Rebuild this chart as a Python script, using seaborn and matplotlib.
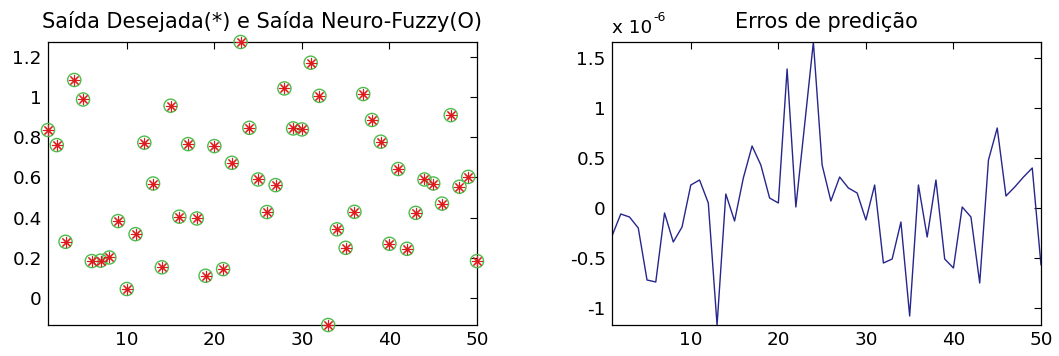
import matplotlib
matplotlib.use("Agg")
import matplotlib.pyplot as plt
import numpy as np
import pandas as pd
import seaborn as sns
from matplotlib.ticker import FixedLocator, FuncFormatter

# Amostras do conjunto de teste
amostra = list(range(1, 51))

# Saída desejada (*)
saida_desejada = [
    0.836, 0.761, 0.280, 1.085, 0.988, 0.184, 0.186, 0.202, 0.383, 0.045,
    0.318, 0.773, 0.570, 0.153, 0.957, 0.405, 0.766, 0.396, 0.111, 0.756,
    0.144, 0.673, 1.274, 0.847, 0.590, 0.428, 0.562, 1.043, 0.844, 0.839,
    1.171, 1.006, -0.134, 0.342, 0.250, 0.429, 1.015, 0.886, 0.778, 0.270,
    0.642, 0.245, 0.424, 0.590, 0.570, 0.470, 0.910, 0.554, 0.603, 0.184,
]

# Saída do modelo neuro-fuzzy (O) -- difere da desejada apenas na ordem de 1e-6
saida_neurofuzzy = [
    0.836, 0.761, 0.280, 1.085, 0.988, 0.184, 0.186, 0.202, 0.383, 0.045,
    0.318, 0.773, 0.570, 0.153, 0.957, 0.405, 0.766, 0.396, 0.111, 0.756,
    0.144, 0.673, 1.274, 0.847, 0.590, 0.428, 0.562, 1.043, 0.844, 0.839,
    1.171, 1.006, -0.134, 0.342, 0.250, 0.429, 1.015, 0.886, 0.778, 0.270,
    0.642, 0.245, 0.424, 0.590, 0.570, 0.470, 0.910, 0.554, 0.603, 0.184,
]

# Erro de predição, em unidades de 10^-6
erro_predicao = [
    -0.28, -0.06, -0.09, -0.20, -0.72, -0.74, -0.05, -0.34, -0.19, 0.23,
    0.28, 0.05, -1.17, 0.14, -0.13, 0.30, 0.62, 0.43, 0.10, 0.05,
    1.39, 0.01, 0.83, 1.66, 0.43, 0.07, 0.31, 0.20, 0.15, -0.12,
    0.23, -0.55, -0.51, -0.14, -1.08, 0.23, -0.29, 0.28, -0.51, -0.60,
    0.01, -0.09, -0.75, 0.48, 0.80, 0.12, 0.21, 0.31, 0.40, -0.57,
]

x_ticks = [10, 20, 30, 40, 50]
y_ticks_saida = [0, 0.2, 0.4, 0.6, 0.8, 1.0, 1.2]
y_ticks_erro = [-1, -0.5, 0, 0.5, 1, 1.5]

titulo_saida = "Saída Desejada(*) e Saída Neuro-Fuzzy(O)"
titulo_erro = "Erros de predição"
escala_base = "x 10"
escala_expoente = "-6"

sns.set_style("white")
plt.rcParams["font.family"] = ["DejaVu Sans"]
plt.rcParams["text.color"] = "black"

df = pd.DataFrame({
    "amostra": amostra,
    "desejada": saida_desejada,
    "neurofuzzy": saida_neurofuzzy,
    "erro": erro_predicao,
})

W, H = 1059, 356
fig = plt.figure(figsize=(W / 100, H / 100), dpi=100)
fig.patch.set_facecolor("white")
ax1 = fig.add_axes([48 / W, 1 - 325 / H, (477 - 48) / W, (325 - 42) / H])
ax2 = fig.add_axes([612 / W, 1 - 325 / H, (1041 - 612) / W, (325 - 42) / H])

# Círculos verdes: saída neuro-fuzzy
sns.scatterplot(data=df, x="amostra", y="neurofuzzy", ax=ax1, marker="o",
                s=90, color="#4cbc4c", linewidth=1.0, clip_on=False,
                zorder=3, legend=False)
circ = ax1.collections[-1]
circ.set_facecolor("none")
circ.set_edgecolor("#4cbc4c")

# Asteriscos vermelhos: saída desejada
sns.scatterplot(data=df, x="amostra", y="desejada", ax=ax1, marker=(8, 2, 0),
                s=55, color="#dc1c1c", linewidth=0.8, clip_on=False,
                zorder=4, legend=False)
ast = ax1.collections[-1]
ast.set_edgecolor("#dc1c1c")

# Curva do erro de predição
sns.lineplot(data=df, x="amostra", y="erro", ax=ax2, color="#26268c",
             linewidth=1.0, legend=False)

fmt = FuncFormatter(lambda v, p: f"{v:g}")

ax1.set_xlim(1, 50)
ax1.set_ylim(min(saida_desejada), max(saida_desejada))
ax1.yaxis.set_major_locator(FixedLocator(y_ticks_saida))

ax2.set_xlim(1, 50)
ax2.set_ylim(min(erro_predicao), max(erro_predicao))
ax2.yaxis.set_major_locator(FixedLocator(y_ticks_erro))

for ax in (ax1, ax2):
    ax.xaxis.set_major_locator(FixedLocator(x_ticks))
    ax.xaxis.set_major_formatter(fmt)
    ax.yaxis.set_major_formatter(fmt)
    ax.set_xlabel("")
    ax.set_ylabel("")
    ax.set_facecolor("white")
    ax.tick_params(direction="in", top=True, right=True, length=5,
                   width=0.8, labelsize=13.2, pad=4.5, colors="black")
    for sp in ax.spines.values():
        sp.set_visible(True)
        sp.set_color("black")
        sp.set_linewidth(0.9)

ax1.set_title(titulo_saida, fontsize=15, pad=10, color="black")
ax2.set_title(titulo_erro, fontsize=15, pad=10, color="black")

# Fator de escala do eixo y do erro: "x 10" com expoente sobrescrito
base = ax2.annotate(escala_base, xy=(0, 1), xycoords="axes fraction",
                    xytext=(0, 6.5), textcoords="offset points",
                    ha="left", va="baseline", fontsize=13.2, color="black")
fig.canvas.draw()
bb = base.get_window_extent()
x_fim = ax2.transAxes.inverted().transform((bb.x1, bb.y0))[0]
ax2.annotate(escala_expoente, xy=(x_fim, 1), xycoords="axes fraction",
             xytext=(0.5, 15), textcoords="offset points",
             ha="left", va="baseline", fontsize=9, color="black")

fig.savefig("out.png", dpi=100, facecolor="white")
